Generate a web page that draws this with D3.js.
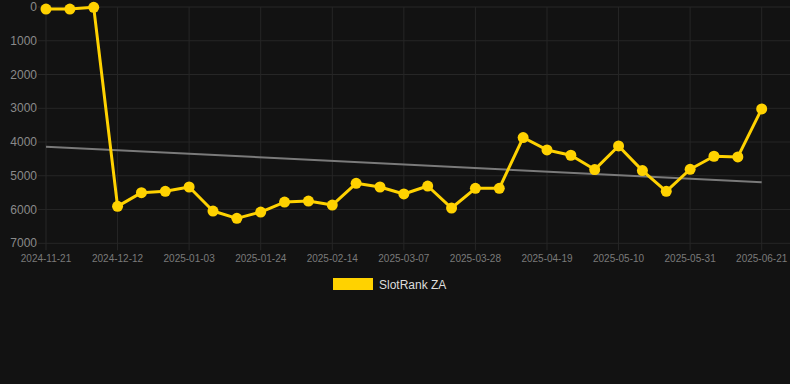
<!DOCTYPE html>
<html>
  <head>
    <script src="https://cdn.jsdelivr.net/npm/d3@7"></script>
    <style>
      body { margin: 0; background: #121212; }
      svg { display: block; font-family: "Liberation Sans", Arial, sans-serif; }
    </style>
  </head>
  <body>
    <script>

    // Dates of every point, one per week-ish (category axis)
    var dates = ["2024-11-21", "2024-11-28", "2024-12-05", "2024-12-12", "2024-12-19",
      "2024-12-26", "2025-01-03", "2025-01-10", "2025-01-17", "2025-01-24",
      "2025-01-31", "2025-02-07", "2025-02-14", "2025-02-21", "2025-02-28",
      "2025-03-07", "2025-03-14", "2025-03-21", "2025-03-28", "2025-04-04",
      "2025-04-12", "2025-04-19", "2025-04-26", "2025-05-03", "2025-05-10",
      "2025-05-17", "2025-05-24", "2025-05-31", "2025-06-07", "2025-06-14",
      "2025-06-21"];

    // Rank values (lower is better, axis reversed)
    var ranks = [60, 60, 10, 5905, 5500, 5460, 5332, 6044, 6261, 6074,
      5777, 5748, 5866, 5223, 5332, 5539, 5303, 5955, 5371, 5371,
      3867, 4234, 4392, 4816, 4116, 4846, 5460, 4807, 4421, 4441,
      3018];

    var yTicks = [0, 1000, 2000, 3000, 4000, 5000, 6000, 7000];
    var seriesName = "SlotRank ZA";

    var width = 790, height = 384;
    var svg = d3.select("body").append("svg")
      .attr("width", width)
      .attr("height", height);

    svg.append("rect").attr("width", width).attr("height", height).attr("fill", "#121212");

    // Scales
    var x = d3.scalePoint()
      .domain(d3.range(dates.length))
      .range([46, 761.7]);

    var y = d3.scaleLinear()
      .domain([0, 7000])
      .range([7, 243.3]);

    // Grid
    svg.append("g").selectAll("line")
      .data(yTicks).enter()
      .append("line")
        .attr("x1", 38).attr("x2", width)
        .attr("y1", d => y(d)).attr("y2", d => y(d))
        .attr("stroke", "#262626").attr("stroke-width", 1);

    var labelIdx = d3.range(0, dates.length, 3);
    svg.append("g").selectAll("line")
      .data(labelIdx).enter()
      .append("line")
        .attr("x1", d => x(d)).attr("x2", d => x(d))
        .attr("y1", y(0)).attr("y2", y(7000) + 7)
        .attr("stroke", "#262626").attr("stroke-width", 1);

    // Y labels
    svg.append("g").selectAll("text")
      .data(yTicks).enter()
      .append("text")
        .attr("x", 37)
        .attr("y", d => y(d) + 4)
        .attr("text-anchor", "end")
        .attr("font-size", 12)
        .attr("fill", "#8a8a8a")
        .text(d => d);

    // X labels
    svg.append("g").selectAll("text")
      .data(labelIdx).enter()
      .append("text")
        .attr("x", d => x(d))
        .attr("y", 262)
        .attr("text-anchor", "middle")
        .attr("font-size", 10)
        .attr("fill", "#7a7a7a")
        .text(d => dates[d]);

    // Trend line (least squares on the ranks)
    var n = ranks.length;
    var mx = d3.mean(d3.range(n)), my = d3.mean(ranks);
    var sxy = d3.sum(ranks, (v, i) => (i - mx) * (v - my));
    var sxx = d3.sum(d3.range(n), i => (i - mx) * (i - mx));
    var slope = sxy / sxx, icpt = my - slope * mx;
    svg.append("line")
      .attr("x1", x(0)).attr("y1", y(icpt))
      .attr("x2", x(n - 1)).attr("y2", y(icpt + slope * (n - 1)))
      .attr("stroke", "#7a7a7a").attr("stroke-width", 2);

    // Series line
    var line = d3.line()
      .x((d, i) => x(i))
      .y(d => y(d));

    svg.append("path")
      .datum(ranks)
      .attr("d", line)
      .attr("fill", "none")
      .attr("stroke", "#ffd200")
      .attr("stroke-width", 3)
      .attr("stroke-linejoin", "round");

    svg.append("g").selectAll("circle")
      .data(ranks).enter()
      .append("circle")
        .attr("cx", (d, i) => x(i))
        .attr("cy", d => y(d))
        .attr("r", 5.5)
        .attr("fill", "#ffd200");

    // Legend
    svg.append("rect")
      .attr("x", 333).attr("y", 278)
      .attr("width", 40).attr("height", 12)
      .attr("fill", "#ffd200");
    svg.append("text")
      .attr("x", 379).attr("y", 288.5)
      .attr("font-size", 12)
      .attr("fill", "#dddddd")
      .text(seriesName);
    </script>
  </body>
</html>
